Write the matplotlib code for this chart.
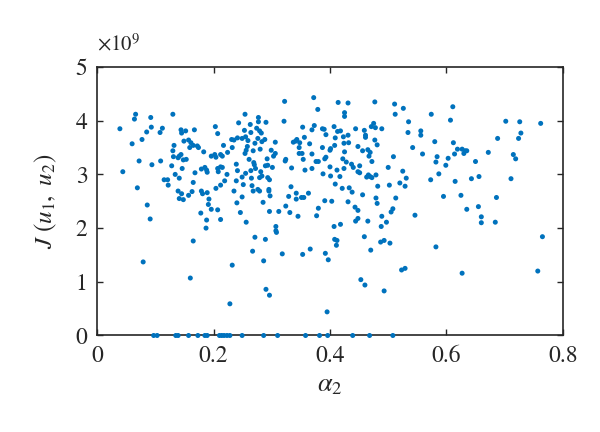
import matplotlib
matplotlib.use("Agg")
import matplotlib.pyplot as plt
from matplotlib.ticker import FuncFormatter

plt.rcParams['font.family'] = ['STIXGeneral', 'Liberation Serif', 'DejaVu Serif']
plt.rcParams['mathtext.fontset'] = 'stix'

# J values in units of 1e9
alpha_left = [0.066,0.064,0.092,0.130,0.254,0.039,0.093,0.112,0.108,0.085,0.077,0.060,0.144,0.152,0.145,0.167,0.203,0.207,0.243,0.253,0.249,0.255,0.241,0.235,0.231,0.149,0.157,0.161,0.165,0.159,0.172,0.174,0.132,0.130,0.131,0.141,0.144,0.139,0.153,0.148,0.183,0.196,0.202,0.204,0.212,0.215,0.217,0.224,0.232,0.259,0.258,0.256,0.254,0.261,0.072,0.109,0.094,0.128,0.044,0.146,0.134,0.141,0.115,0.121,0.122,0.069,0.168,0.165,0.179,0.185,0.188,0.189,0.207,0.212,0.208,0.215,0.223,0.219,0.212,0.204,0.239,0.241,0.239,0.249,0.251,0.255,
              0.139,0.145,0.157,0.163,0.179,0.189,0.181,0.141,0.148,0.192,0.235,0.249,0.086,0.091,0.178,0.188,0.187,0.191,0.196,0.207,0.212,0.240,0.246,0.256,0.165,0.079,0.232,0.160,0.228]
J_left = [4.12,4.03,4.06,4.12,4.12,3.85,3.88,3.86,3.78,3.79,3.65,3.57,3.83,3.81,3.77,3.83,3.89,3.76,3.96,3.82,3.67,3.70,3.68,3.64,3.65,3.62,3.64,3.59,3.54,3.50,3.53,3.50,3.54,3.44,3.33,3.34,3.37,3.31,3.28,3.27,3.42,3.34,3.37,3.32,3.37,3.34,3.54,3.41,3.50,3.63,3.52,3.45,3.39,3.28,3.25,3.25,3.18,3.16,3.05,3.11,3.00,2.93,2.90,2.90,2.80,2.75,3.03,2.85,3.10,3.13,3.08,3.04,3.11,3.14,3.05,3.13,3.00,2.88,2.80,2.74,3.19,3.07,2.88,2.95,2.81,3.02,
          2.69,2.64,2.61,2.68,2.69,2.66,2.64,2.55,2.53,2.54,2.69,2.58,2.43,2.17,2.28,2.15,2.00,2.44,2.35,2.34,2.16,2.47,2.29,2.11,1.76,1.37,1.31,1.07,0.59]

alpha_mid = [0.322,0.372,0.379,0.414,0.431,0.477,0.511,0.526,0.512,0.425,0.425,0.321,0.277,0.277,0.290,0.263,0.264,0.274,0.279,0.282,0.276,0.288,0.283,0.271,0.306,0.280,0.268,0.299,0.306,0.303,0.353,0.369,0.373,0.387,0.390,0.393,0.407,0.413,0.418,0.409,0.423,0.431,0.444,0.459,0.461,0.461,0.471,0.475,0.478,0.489,0.535,0.534,0.477,0.481,0.341,0.337,0.343,0.348,0.356,0.365,0.347,0.347,0.352,0.354,0.369,0.376,0.380,0.387,0.391,0.393,0.400,0.401,0.408,0.424,0.432,0.425,0.422,0.428,0.424,0.437,0.448,0.456,0.451,0.465,0.469,0.467,0.472,0.448,0.451,0.440,0.400,0.388,0.401,0.409,0.412,0.417,0.421,0.433,0.500,0.509,0.479,0.469,0.466,0.463,0.472,0.482,0.502,0.525,0.531,0.529,0.520,0.369,0.357,0.334,0.323,0.324,0.292,0.289,0.293,0.301,0.269,0.270,0.272,0.264,0.281,0.283,0.279,0.265,0.293,0.296,0.266,0.276,0.295,0.333]
J_mid = [4.36,4.43,4.21,4.34,4.33,4.35,4.31,4.23,4.12,4.15,4.08,3.99,4.06,3.98,3.97,3.93,3.78,3.86,3.81,3.77,3.67,3.65,3.61,3.58,3.60,3.47,3.44,3.45,3.39,3.34,3.88,3.83,3.91,3.85,3.84,3.74,3.89,3.80,3.81,3.68,3.70,3.73,3.85,3.82,3.73,3.69,3.89,3.95,3.87,3.85,3.98,3.78,3.64,3.55,3.62,3.60,3.65,3.59,3.69,3.57,3.50,3.39,3.39,3.28,3.38,3.24,3.24,3.50,3.29,3.32,3.45,3.48,3.54,3.58,3.59,3.42,3.29,3.23,3.11,3.19,3.52,3.44,3.16,3.46,3.41,3.34,3.24,3.05,3.03,3.13,3.14,3.01,2.97,2.82,3.08,2.96,2.74,2.75,3.13,3.33,2.99,2.96,2.99,2.95,2.94,2.78,2.80,3.06,2.93,2.78,2.84,3.11,3.08,3.12,3.25,3.28,3.29,3.16,3.17,3.13,3.22,3.18,3.11,3.07,3.05,2.97,2.94,2.93,2.94,2.90,2.79,2.72,2.72,2.77]

alpha_low = [0.268,0.279,0.295,0.297,0.285,0.329,0.324,0.342,0.342,0.351,0.355,0.363,0.391,0.403,0.380,0.377,0.345,0.331,0.312,0.296,0.307,0.307,0.308,0.271,0.289,0.267,0.286,0.318,0.353,0.366,0.392,0.397,0.407,0.418,0.408,0.412,0.411,0.438,0.431,0.443,0.448,0.456,0.479,0.481,0.508,0.505,0.513,0.489,0.497,0.488,0.444,0.448,0.465,0.459,0.470,0.487,0.493,0.503,0.523,0.529,0.453,0.460,0.493,0.290,0.296,0.395]
J_low = [2.69,2.69,2.69,2.60,2.48,2.59,2.41,2.65,2.54,2.57,2.57,2.65,2.51,2.50,2.37,2.23,2.22,2.29,2.31,2.31,2.03,1.95,1.92,1.83,1.79,1.57,1.39,1.52,1.51,1.61,1.53,1.41,2.03,2.07,1.79,1.77,1.68,2.67,2.49,2.39,2.33,2.62,2.56,2.46,2.36,2.30,2.56,2.22,2.11,2.03,2.13,2.18,2.13,1.84,1.59,1.74,1.77,1.72,1.22,1.25,1.04,0.94,0.83,0.86,0.75,0.44]

alpha_right = [0.611,0.574,0.607,0.556,0.556,0.580,0.542,0.559,0.612,0.619,0.627,0.632,0.635,0.630,0.614,0.603,0.584,0.582,0.599,0.650,0.672,0.688,0.702,0.726,0.762,0.728,0.724,0.715,0.719,0.587,0.573,0.615,0.643,0.656,0.711,
               0.595,0.625,0.686,0.635,0.655,0.660,0.660,0.684,0.546,0.765,0.582,0.627,0.757]
J_right = [4.26,4.12,4.01,3.81,3.73,3.61,3.50,3.38,3.59,3.47,3.47,3.44,3.44,3.39,3.38,3.30,3.33,3.23,3.17,3.24,3.41,3.67,3.99,3.98,3.95,3.77,3.67,3.37,3.29,3.01,2.90,2.87,2.92,2.96,2.92,
           2.59,2.61,2.57,2.35,2.40,2.21,2.10,2.11,2.24,1.84,1.65,1.16,1.20]

alpha_zero = [0.097,0.103,0.135,0.139,0.157,0.173,0.185,0.189,0.210,0.214,0.218,0.223,0.228,0.249,0.286,0.310,0.358,0.382,0.396,0.439,0.468,0.508]
J_zero = [0.0] * len(alpha_zero)

x_ticks = [0, 0.2, 0.4, 0.6, 0.8]
x_ticklabels = ['0', '0.2', '0.4', '0.6', '0.8']
y_ticks = [0, 1e9, 2e9, 3e9, 4e9, 5e9]
y_scale = 1e9

alpha_all = alpha_left + alpha_mid + alpha_low + alpha_right + alpha_zero
J_all = [v * y_scale for v in (J_left + J_mid + J_low + J_right + J_zero)]

fig = plt.figure(figsize=(6, 4.32), dpi=100)
ax = fig.add_axes([0.162, 0.2234, 0.776, 0.6215])
ax.scatter(alpha_all, J_all, s=13, color='#0072BD', edgecolors='none', clip_on=False, zorder=3)

ax.set_xlim(0, 0.8)
ax.set_ylim(0, 5e9)
ax.set_xticks(x_ticks)
ax.set_xticklabels(x_ticklabels)
ax.set_yticks(y_ticks)
ax.yaxis.set_major_formatter(FuncFormatter(lambda v, p: '%g' % (v / y_scale)))
ax.text(0.0, 1.045, r'$\times10^{9}$', transform=ax.transAxes, fontsize=15,
        color='#262626', ha='left', va='bottom')

ax.tick_params(direction='in', length=4, width=1.0, top=True, right=True,
               labelsize=17, colors='#262626', pad=7)
for sp in ax.spines.values():
    sp.set_linewidth(1.2)
    sp.set_color('#262626')

ax.set_xlabel(r'$\alpha_2$', fontsize=19, color='#262626', labelpad=5)
ax.set_ylabel(r'$J\ (u_1,\ u_2)$', fontsize=18, color='#262626', labelpad=12)

fig.savefig('out.png', dpi=100)
